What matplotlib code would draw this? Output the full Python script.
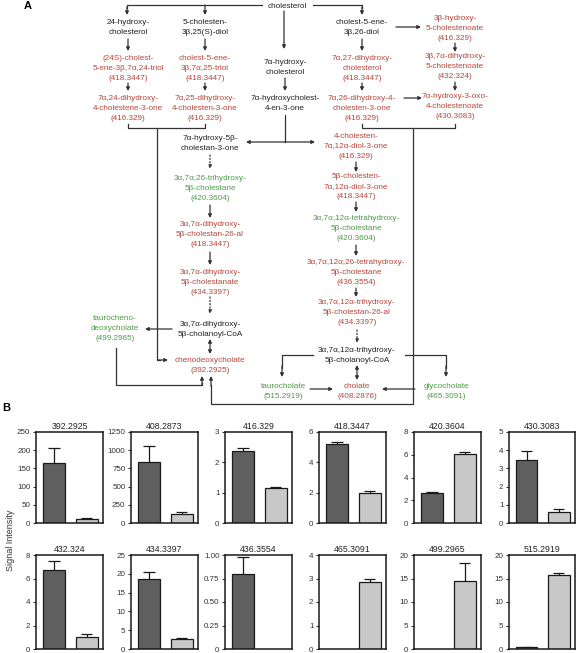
import matplotlib
matplotlib.use("Agg")
import matplotlib.pyplot as plt
from matplotlib.ticker import FuncFormatter

plt.rcParams['font.family'] = ['Liberation Sans', 'DejaVu Sans']

W, H = 576, 653

# ---- panel B data ----
masses = ["392.2925", "408.2873", "416.329", "418.3447", "420.3604", "430.3083",
          "432.324", "434.3397", "436.3554", "465.3091", "499.2965", "515.2919"]
dark_vals = [165, 840, 2.37, 5.2, 2.6, 3.45, 6.75, 18.7, 0.80, 0, 0, 0.35]
dark_errs = [40, 220, 0.11, 0.15, 0.1, 0.5, 0.75, 1.8, 0.18, 0, 0, 0.1]
light_vals = [10, 120, 1.15, 2.0, 6.1, 0.62, 1.05, 2.6, 0, 2.85, 14.4, 15.7]
light_errs = [3, 30, 0.03, 0.1, 0.15, 0.16, 0.25, 0.25, 0, 0.15, 3.8, 0.5]
y_max = [250, 1250, 3, 6, 8, 5, 8, 25, 1.0, 4, 20, 20]
y_step = [50, 250, 1, 2, 2, 1, 2, 5, 0.25, 1, 5, 5]

# ---- panel A pathway nodes ----
K, R, G = '#222222', '#b5473a', '#4e9a47'
nodes = [
    (["cholesterol"], K),
    (["24-hydroxy-", "cholesterol"], K),
    (["5-cholesten-", "3β,25(S)-diol"], K),
    (["cholest-5-ene-", "3β,26-diol"], K),
    (["3β-hydroxy-", "5-cholestenoate", "(416.329)"], R),
    (["(24S)-cholest-", "5-ene-3β,7α,24-triol", "(418.3447)"], R),
    (["cholest-5-ene-", "3β,7α,25-triol", "(418.3447)"], R),
    (["7α-hydroxy-", "cholesterol"], K),
    (["7α,27-dihydroxy-", "cholesterol", "(418.3447)"], R),
    (["3β,7α-dihydroxy-", "5-cholestenoate", "(432.324)"], R),
    (["7α,24-dihydroxy-", "4-cholestene-3-one", "(416.329)"], R),
    (["7α,25-dihydroxy-", "4-cholesten-3-one", "(416.329)"], R),
    (["7α-hydroxycholest-", "4-en-3-one"], K),
    (["7α,26-dihydroxy-4-", "cholesten-3-one", "(416.329)"], R),
    (["7α-hydroxy-3-oxo-", "4-cholestenoate", "(430.3083)"], R),
    (["7α-hydroxy-5β-", "cholestan-3-one"], K),
    (["4-cholesten-", "7α,12α-diol-3-one", "(416.329)"], R),
    (["3α,7α,26-trihydroxy-", "5β-cholestane", "(420.3604)"], G),
    (["5β-cholesten-", "7α,12α-diol-3-one", "(418.3447)"], R),
    (["3α,7α,12α-tetrahydroxy-", "5β-cholestane", "(420.3604)"], G),
    (["3α,7α-dihydroxy-", "5β-cholestan-26-al", "(418.3447)"], R),
    (["3α,7α,12α,26-tetrahydroxy-", "5β-cholestane", "(436.3554)"], R),
    (["3α,7α-dihydroxy-", "5β-cholestanate", "(434.3397)"], R),
    (["3α,7α,12α-trihydroxy-", "5β-cholestan-26-al", "(434.3397)"], R),
    (["taurocheno-", "deoxycholate", "(499.2965)"], G),
    (["3α,7α-dihydroxy-", "5β-cholanoyl-CoA"], K),
    (["3α,7α,12α-trihydroxy-", "5β-cholanoyl-CoA"], K),
    (["chenodeoxycholate", "(392.2925)"], R),
    (["taurocholate", "(515.2919)"], G),
    (["cholate", "(408.2876)"], R),
    (["glycocholate", "(465.3091)"], G),
]
# layout (pixel centre of first line)
node_pos = [(287, 6), (128, 23), (205, 23), (362, 23), (455, 18),
            (128, 58), (205, 58), (285, 62), (362, 58), (455, 57),
            (128, 99), (205, 99), (285, 99), (362, 98), (455, 97),
            (210, 138), (356, 136), (210, 179), (356, 177), (356, 218),
            (210, 225), (356, 262), (210, 272), (357, 303), (115, 319),
            (210, 324), (357, 350), (210, 360), (283, 386), (357, 386),
            (446, 386)]

fig = plt.figure(figsize=(W / 100, H / 100), dpi=100)
ax0 = fig.add_axes([0, 0, 1, 1])
ax0.set_xlim(0, W)
ax0.set_ylim(H, 0)
ax0.axis('off')

LC = '#333333'
for (lines, col), (x, y) in zip(nodes, node_pos):
    for i, s in enumerate(lines):
        ax0.text(x, y + i * 10, s, color=col, fontsize=5.9, ha='center', va='center')


def arrow(x1, y1, x2, y2, ls='-', style='-|>'):
    ax0.annotate('', xy=(x2, y2), xytext=(x1, y1),
                 arrowprops=dict(arrowstyle=style, color=LC, lw=0.9, ls=ls,
                                 shrinkA=0, shrinkB=0, mutation_scale=5))


def path(pts):
    ax0.plot([p[0] for p in pts], [p[1] for p in pts], color=LC, lw=0.9)


# top connections
path([(262, 5), (127, 5), (127, 8)])
arrow(127, 7, 127, 15)
arrow(205, 5, 205, 15)
path([(313, 5), (362, 5), (362, 8)])
arrow(362, 7, 362, 15)
arrow(284, 11, 284, 49)
for x in (128, 205, 362):
    arrow(x, 39, x, 51)
    arrow(x, 83, x, 91)
arrow(396, 27, 421, 27)
arrow(455, 43, 455, 52)
arrow(285, 78, 285, 91)
arrow(455, 82, 455, 91)
arrow(404, 98, 422, 98)

# left bracket -> chenodeoxycholate
path([(128, 124), (128, 128), (205, 128), (205, 124)])
path([(157, 128), (157, 360), (160, 360)])
arrow(158, 360, 168, 360)
# 7a-hydroxycholest-4-en-3-one split
path([(285, 115), (285, 142)])
arrow(285, 142, 246, 142)
arrow(285, 142, 315, 142)
# right bracket box
path([(362, 124), (362, 128), (455, 128), (455, 124)])
path([(413, 128), (413, 404), (211, 404), (211, 385)])
arrow(211, 386, 211, 376)

# middle column
arrow(210, 155, 210, 169, ls=':')
arrow(210, 205, 210, 218)
arrow(210, 252, 210, 265)
arrow(210, 297, 210, 314, ls=':')
arrow(210, 339, 210, 354, style='<|-|>')
# right column
arrow(356, 162, 356, 172)
arrow(356, 202, 356, 212)
arrow(356, 245, 356, 256)
arrow(356, 288, 356, 297)
arrow(357, 330, 357, 343, ls=':')
arrow(357, 365, 357, 380, style='<|-|>')

# conjugates
arrow(172, 329, 145, 329)
path([(116, 348), (116, 385), (202, 385), (202, 383)])
arrow(202, 385, 202, 376)
path([(313, 355), (282, 355), (282, 368)])
arrow(282, 366, 282, 377)
path([(405, 355), (446, 355), (446, 368)])
arrow(446, 366, 446, 377)
arrow(310, 389, 333, 389)
arrow(415, 389, 382, 389)

ax0.text(28, 6, "A", fontsize=8, fontweight='bold', ha='center', va='center')
ax0.text(6, 408, "B", fontsize=8, fontweight='bold', ha='center', va='center')

# ---- panel B bar charts ----
lefts = [36, 131, 225, 319, 414, 509]
rows = [(432, 523), (555, 649)]
for k in range(12):
    r, c = divmod(k, 6)
    top, bot = rows[r]
    w = 67 if c < 5 else 66
    ax = fig.add_axes([lefts[c] / W, 1 - bot / H, w / W, (bot - top) / H])
    vals = [dark_vals[k], light_vals[k]]
    errs = [dark_errs[k], light_errs[k]]
    for i, (v, e, col) in enumerate(zip(vals, errs, ['#5f5f5f', '#c8c8c8'])):
        if v > 0:
            ax.bar(i, v, width=0.67, color=col, edgecolor='#1a1a1a', lw=0.9, zorder=2)
        if e > 0:
            ax.vlines(i, v, v + e, color='#1a1a1a', lw=0.9, zorder=1)
            ax.hlines(v + e, i - 0.17, i + 0.17, color='#1a1a1a', lw=0.9, zorder=1)
    ax.set_xlim(-0.55, 1.5)
    ax.set_ylim(0, y_max[k])
    n = int(round(y_max[k] / y_step[k]))
    ax.set_yticks([j * y_step[k] for j in range(n + 1)])
    if y_max[k] == 1.0:
        ax.yaxis.set_major_formatter(FuncFormatter(lambda v, p: "0" if v == 0 else f"{v:.2f}"))
    else:
        ax.yaxis.set_major_formatter(FuncFormatter(lambda v, p: f"{v:g}"))
    ax.set_xticks([])
    ax.tick_params(axis='y', labelsize=5.8, length=2, width=0.8, pad=2, colors='#333333')
    for sp in ax.spines.values():
        sp.set_linewidth(1.1)
        sp.set_color('#1a1a1a')
    ax.set_title(masses[k], fontsize=6.3, pad=2, color='#222222')

fig.text(11 / W, 1 - 540 / H, "Signal Intensity", rotation=90, fontsize=6.5,
         ha='center', va='center', color='#333333')

fig.savefig("out.png", dpi=100)
